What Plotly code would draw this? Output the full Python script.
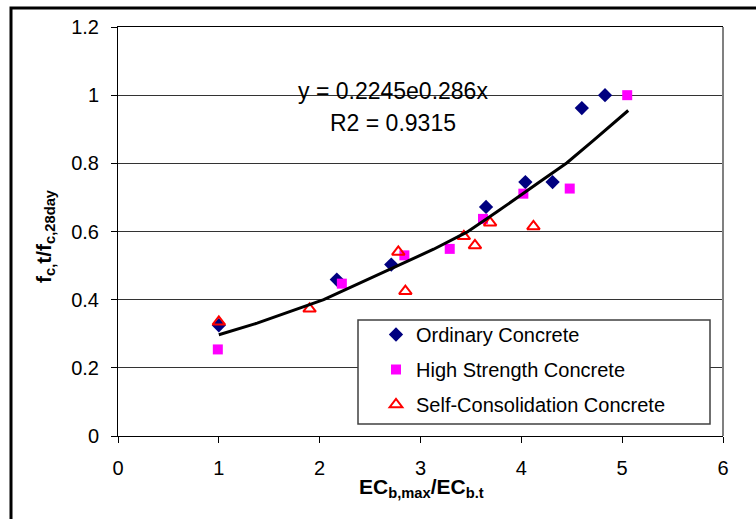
import plotly.graph_objects as go

# Data
ord_x = [1.0, 2.17, 2.71, 3.65, 4.04, 4.31, 4.60, 4.83]
ord_y = [0.325, 0.459, 0.503, 0.672, 0.745, 0.745, 0.962, 1.0]
hs_x = [0.99, 2.22, 2.84, 3.29, 3.62, 4.02, 4.48, 5.05]
hs_y = [0.254, 0.447, 0.530, 0.549, 0.637, 0.711, 0.726, 1.0]
scc_x = [1.0, 1.90, 2.78, 2.85, 3.43, 3.54, 3.69, 4.12]
scc_y = [0.335, 0.373, 0.540, 0.425, 0.586, 0.559, 0.626, 0.615]
trend_x = [1.0, 1.38, 2.04, 2.60, 3.13, 3.46, 3.755, 4.18, 4.45, 4.71, 5.06]
trend_y = [0.297, 0.331, 0.400, 0.476, 0.548, 0.598, 0.657, 0.745, 0.801, 0.866, 0.955]
x_ticks = [0, 1, 2, 3, 4, 5, 6]
y_ticks = [0, 0.2, 0.4, 0.6, 0.8, 1.0, 1.2]
y_ticklabels = ["0", "0.2", "0.4", "0.6", "0.8", "1", "1.2"]

FONT = "Liberation Sans, Arial, sans-serif"

fig = go.Figure()
fig.add_trace(go.Scatter(x=ord_x, y=ord_y, mode="markers", name="Ordinary Concrete",
                         legendgroup="a",
                         marker=dict(symbol="diamond", size=11, color="#000080")))
fig.add_trace(go.Scatter(x=hs_x, y=hs_y, mode="markers", name="High Strength Concrete",
                         legendgroup="b",
                         marker=dict(symbol="square", size=10, color="#FF00FF")))
fig.add_trace(go.Scatter(x=scc_x, y=scc_y, mode="markers", name="Self-Consolidation Concrete",
                         legendgroup="c",
                         marker=dict(symbol="triangle-up-open", size=11, color="#FF0000",
                                     line=dict(width=2, color="#FF0000"))))
fig.add_trace(go.Scatter(x=trend_x, y=trend_y, mode="lines", showlegend=False,
                         line=dict(color="black", width=3, shape="linear")))

L, R, T, B = 118, 33, 27, 83
W, H = 756, 519
pw, ph = W - L - R, H - T - B

def px(v):
    return (v - L) / pw

def py(v):
    return (H - B - v) / ph

fig.update_layout(
    width=W, height=H, autosize=False,
    margin=dict(l=L, r=R, t=T, b=B),
    paper_bgcolor="white", plot_bgcolor="white",
    font=dict(family=FONT, size=20, color="black"),
    xaxis=dict(range=[0, 6], tickvals=x_ticks, showgrid=False, zeroline=False,
               showline=True, linecolor="black", linewidth=1, mirror=True,
               ticks="outside", ticklen=6, tickcolor="black",
               tickfont=dict(size=20), ticklabelstandoff=8),
    yaxis=dict(range=[0, 1.2], tickvals=y_ticks, ticktext=y_ticklabels,
               showgrid=True, gridcolor="#333333", gridwidth=1, zeroline=False,
               showline=True, linecolor="black", linewidth=1,
               ticks="outside", ticklen=6, tickcolor="black",
               tickfont=dict(size=20), ticklabelstandoff=8),
    legend=dict(x=px(376), y=py(315), xanchor="left", yanchor="top",
                bgcolor="rgba(0,0,0,0)", borderwidth=0,
                font=dict(size=20), tracegroupgap=6, traceorder="grouped"),
    shapes=[
        dict(type="line", xref="paper", yref="paper", x0=1, x1=1, y0=0, y1=1,
             line=dict(color="#808080", width=2), layer="above"),
        dict(type="rect", xref="paper", yref="paper",
             x0=px(358), x1=px(710), y0=py(424), y1=py(320),
             line=dict(color="#404040", width=1.5), fillcolor="white", layer="above"),
        dict(type="rect", xref="paper", yref="paper",
             x0=px(11), x1=px(770), y0=py(530), y1=py(8),
             line=dict(color="black", width=3), fillcolor="rgba(0,0,0,0)", layer="above"),
    ],
    annotations=[
        dict(text="y = 0.2245e0.286x", xref="paper", yref="paper",
             x=px(393), y=py(76), showarrow=False, font=dict(size=23)),
        dict(text="R2 = 0.9315", xref="paper", yref="paper",
             x=px(393), y=py(108), showarrow=False, font=dict(size=23)),
        dict(text="<b>EC<sub>b,max</sub>/EC<sub>b.t</sub></b>", xref="paper", yref="paper",
             x=px(421), y=py(503), showarrow=False, font=dict(size=21)),
        dict(text="<b>f<sub>c,</sub>t/f<sub>c,28day</sub></b>", xref="paper", yref="paper",
             x=px(30), y=py(236), showarrow=False, textangle=-90, font=dict(size=21)),
    ],
)

fig.write_html("out.html")
